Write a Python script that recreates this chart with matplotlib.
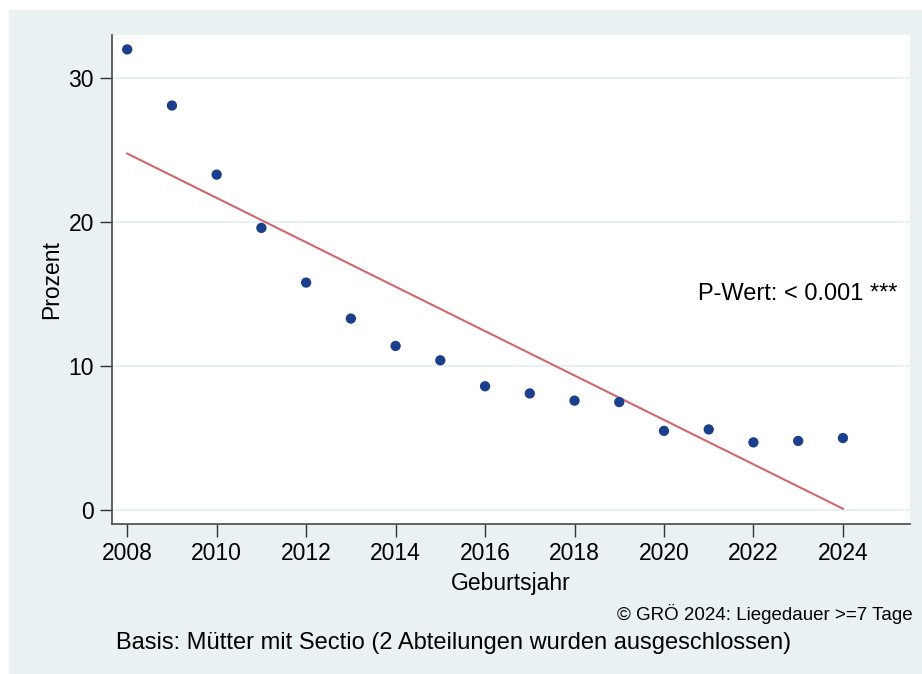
import matplotlib.pyplot as plt
import matplotlib.patches as mpatches
import numpy as np

plt.rcParams['font.family'] = ['Liberation Sans', 'DejaVu Sans']

# Anteil Mütter mit Sectio und Liegedauer >= 7 Tage, nach Geburtsjahr
years = np.arange(2008, 2025)
percent = [32.0, 28.1, 23.3, 19.6, 15.8, 13.3, 11.4, 10.4, 8.6,
           8.1, 7.6, 7.5, 5.5, 5.6, 4.7, 4.8, 5.0]
x_ticks = [2008, 2010, 2012, 2014, 2016, 2018, 2020, 2022, 2024]
y_ticks = [0, 10, 20, 30]
p_text = 'P-Wert: < 0.001 ***'
source_text = '© GRÖ 2024: Liegedauer >=7 Tage'
note_text = 'Basis: Mütter mit Sectio (2 Abteilungen wurden ausgeschlossen)'

bg = '#eaf1f3'
navy = '#1b3f8b'
red = '#d0676e'

fig = plt.figure(figsize=(9.22, 6.74), dpi=100)
fig.patch.set_facecolor('white')
fig.add_artist(mpatches.Rectangle((9 / 922, 0), 1 - 9 / 922, 664 / 674,
                                  transform=fig.transFigure, facecolor=bg,
                                  edgecolor='none', zorder=0))

ax = fig.add_axes([112 / 922, 150 / 674, 798 / 922, 489 / 674])
ax.set_facecolor('white')

# lineare Regression
slope, icpt = np.polyfit(years, percent, 1)
fit = slope * years + icpt

for yt in y_ticks:
    ax.axhline(yt, color=bg, lw=1.5, zorder=1)
ax.plot(years, fit, color=red, lw=1.5, zorder=2)
ax.scatter(years, percent, s=55, color=navy, edgecolors='none', zorder=3)

ax.set_xlim(2007.66, 2025.5)
ax.set_ylim(-0.97, 33.0)
ax.set_xticks(x_ticks)
ax.set_yticks(y_ticks)
ax.tick_params(axis='both', labelsize=16.5, length=9, width=1,
               color='#333333', pad=4)
for s in ['top', 'right']:
    ax.spines[s].set_visible(False)
for s in ['left', 'bottom']:
    ax.spines[s].set_color('#555555')
    ax.spines[s].set_linewidth(1.3)

ax.set_xlabel('Geburtsjahr', fontsize=16.5, labelpad=5)
ax.set_ylabel('Prozent', fontsize=16.5, labelpad=4)

ax.text(2020.76, 15.0, p_text, fontsize=17, va='center', ha='left')

fig.text(913 / 922, 1 - 614 / 674, source_text, fontsize=13.5,
         ha='right', va='center')
fig.text(116 / 922, 1 - 643 / 674, note_text, fontsize=17,
         ha='left', va='center')

fig.savefig('out.png', dpi=100, facecolor=fig.get_facecolor())
